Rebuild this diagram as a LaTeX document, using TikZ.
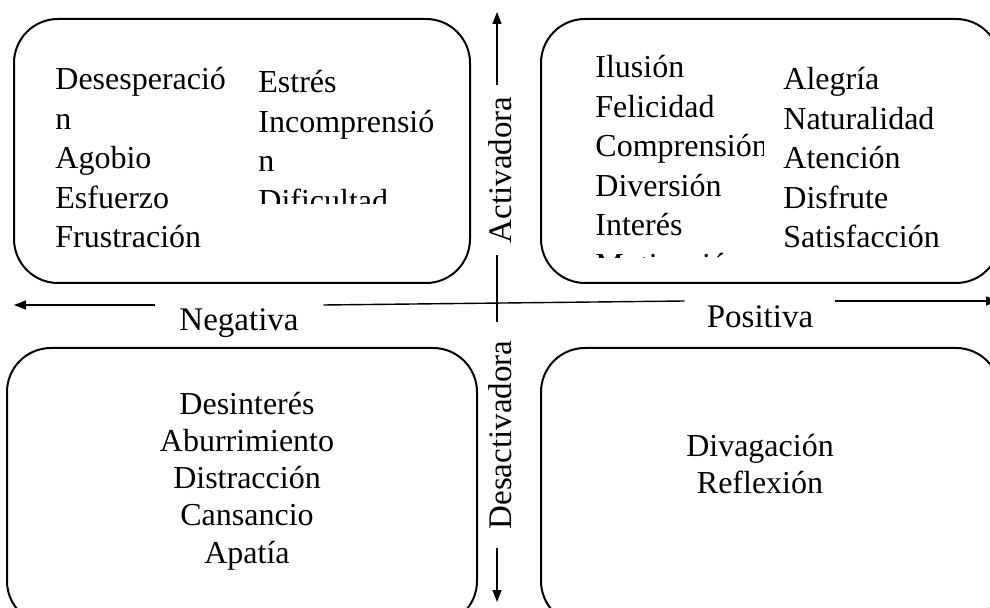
\documentclass[tikz,border=0pt]{standalone}
\usepackage{fontspec}
\setmainfont{Liberation Serif}
\usetikzlibrary{arrows.meta}
\tikzset{
  quad/.style={draw,line width=1pt,rounded corners=22pt,inner sep=0pt},
  col/.style={align=left,inner sep=0pt,font=\fontsize{16}{19.75}\selectfont},
  ctr/.style={align=center,inner sep=0pt,font=\fontsize{16}{18.5}\selectfont},
  axlbl/.style={inner sep=0pt,font=\fontsize{16.5}{20}\selectfont},
  ax/.style={line width=0.7pt},
  arr/.style={ax,-{Triangle[length=6pt,width=4.5pt]}}
}
\begin{document}
\begin{tikzpicture}[x=0.5pt,y=-0.5pt]
  \useasboundingbox (0,0) rectangle (990,608);
  % quadrants
  \node[quad,minimum width=228pt,minimum height=132pt] (negact) at (242,151) {};
  \node[quad,minimum width=229.5pt,minimum height=132pt] (posact) at (770.5,151) {};
  \node[quad,minimum width=235pt,minimum height=138.5pt] (negdes) at (242,486.5) {};
  \node[quad,minimum width=229.5pt,minimum height=138.5pt] (posdes) at (770.5,486.5) {};

  % texts (anchor base = last line)
  \node[col,anchor=base west] (negA) at (55,248) {Desesperació\\n\\Agobio\\Esfuerzo\\Frustración};
  \begin{scope}
    \clip (250,40) rectangle (470,204);
    \node[col,anchor=base west] (negB) at (258,211.5) {Estrés\\Incomprensió\\n\\Dificultad};
  \end{scope}
  \begin{scope}
    \clip (585,40) rectangle (763,258);
    \node[col,anchor=base west] (posA) at (595,275.5) {Ilusión\\Felicidad\\Comprensión\\Diversión\\Interés\\Motivación};
  \end{scope}
  \node[col,anchor=base west] (posB) at (783,248) {Alegría\\Naturalidad\\Atención\\Disfrute\\Satisfacción};
  \node[ctr,anchor=base] (negC) at (247,563) {Desinterés\\Aburrimiento\\Distracción\\Cansancio\\Apatía};
  \node[ctr,anchor=base] (posC) at (760,494) {Divagación\\Reflexión};

  % axes
  \coordinate (top) at (497,12);
  \coordinate (bot) at (497,602);
  \coordinate (lft) at (14,305);
  \coordinate (rgt) at (998,301);
  \node[axlbl,rotate=90,minimum width=85pt] (act) at (500,170) {Activadora};
  \node[axlbl,rotate=90,minimum width=113pt] (des) at (500,435) {Desactivadora};
  \node[axlbl,anchor=base,minimum width=84pt] (neg) at (239,331) {Negativa};
  \node[axlbl,anchor=base,minimum width=75pt] (pos) at (760,328) {Positiva};

  \draw[arr] (act.east -| top) -- (top);
  \draw[ax] (act.west -| top) -- (des.east -| top);
  \draw[arr] (des.west -| top) -- (bot);
  \draw[arr] (neg.west |- lft) -- (lft);
  \draw[ax] (neg.east |- lft) -- (pos.west |- rgt);
  \draw[arr] (pos.east |- rgt) -- (rgt);
\end{tikzpicture}
\end{document}
